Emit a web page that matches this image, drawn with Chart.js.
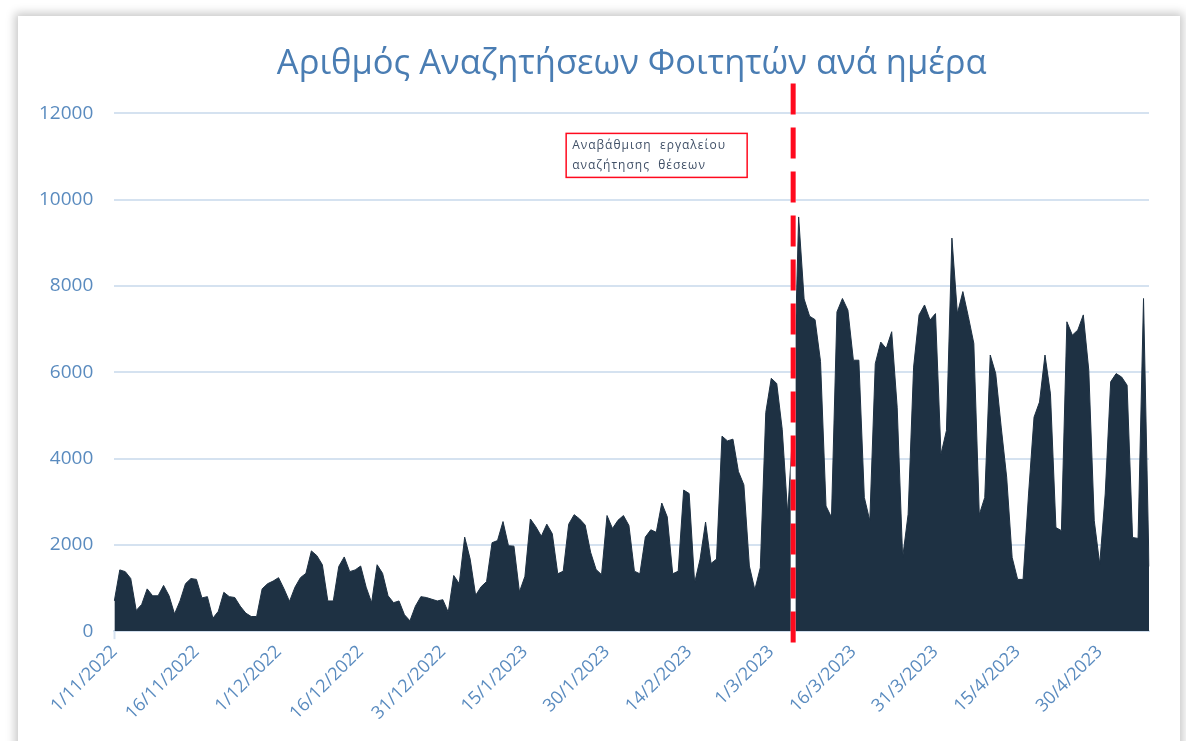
<!DOCTYPE html>
<html>
<head>
<meta charset="utf-8">
<title>Αναζητήσεις Φοιτητών</title>
<script src="https://cdn.jsdelivr.net/npm/chart.js@4.4.0/dist/chart.umd.min.js"></script>
<style>
	html, body { margin: 0; padding: 0; background: #ffffff; }
	body { width: 1186px; height: 741px; overflow: hidden; position: relative; }
	#card { position: absolute; left: 18px; top: 16px; width: 1162px; height: 740px; background: #ffffff; box-shadow: 0 0 9px 3px rgba(0, 0, 0, 0.22); }
	#chart-canvas { position: absolute; left: 0; top: 0; }
</style>
</head>
<body>
<div id="card"></div>
<canvas id="chart-canvas" width="1186" height="741"></canvas>
<script>
// daily searches, one array per month
var novValues = [700, 1420, 1380, 1220, 480, 620, 980, 820, 820, 1060, 820, 400, 700, 1100, 1220, 1200, 770, 800, 300, 460, 900, 800, 780, 580, 420, 340, 340, 980, 1100, 1160];
var decValues = [1240, 980, 690, 1020, 1240, 1340, 1860, 1750, 1540, 700, 700, 1500, 1720, 1380, 1420, 1510, 1020, 660, 1540, 1340, 820, 660, 700, 380, 240, 580, 800, 780, 740, 700, 730];
var janValues = [440, 1290, 1100, 2180, 1670, 830, 1030, 1150, 2050, 2100, 2540, 1980, 1970, 910, 1270, 2600, 2420, 2200, 2480, 2260, 1330, 1390, 2480, 2700, 2600, 2460, 1830, 1430, 1310, 2680, 2380];
var febValues = [2570, 2680, 2450, 1390, 1330, 2180, 2350, 2290, 2970, 2650, 1330, 1390, 3270, 3190, 1120, 1670, 2530, 1570, 1670, 4520, 4410, 4450, 3700, 3390, 1510, 960, 1470, 5070];
var marValues = [5860, 5740, 4680, 2720, 4800, 9600, 7700, 7300, 7220, 6250, 2900, 2640, 7400, 7710, 7440, 6280, 6280, 3100, 2560, 6200, 6700, 6550, 6940, 5190, 1700, 2710, 6120, 7330, 7560, 7210, 7360];
var aprValues = [4100, 4650, 9110, 7360, 7870, 7290, 6670, 2700, 3100, 6400, 5970, 4730, 3570, 1710, 1200, 1200, 3180, 4960, 5310, 6400, 5500, 2400, 2330, 7170, 6860, 6980, 7330, 6050, 2560, 1550];
var mayValues = [3180, 5780, 5970, 5890, 5700, 2170, 2150, 7710, 1500];

var tickLabels = ["1/11/2022", "16/11/2022", "1/12/2022", "16/12/2022", "31/12/2022", "15/1/2023", "30/1/2023", "14/2/2023", "1/3/2023", "16/3/2023", "31/3/2023", "15/4/2023", "30/4/2023"];
var yTicks = [0, 2000, 4000, 6000, 8000, 10000, 12000];
var upgradeDate = "5/3/2023";
var upgradeNote = ["Αναβάθμιση  εργαλείου", "αναζήτησης  θέσεων"];
var chartTitle = "Αριθμός Αναζητήσεων Φοιτητών ανά ημέρα";

var fillColor = "#1e3143";
var gridColor = "#d5e2f0";
var labelColor = "#5a8bbf";
var markerColor = "#ff0a1e";
var fontFamily = "'Open Sans', 'Noto Sans', sans-serif";

var searchValues = novValues.concat(decValues, janValues, febValues, marValues, aprValues, mayValues);
var dayLabels = [];

(function() {
	var day = new Date(2022, 10, 1);
	for(var i = 0; i < searchValues.length; i++) {
		dayLabels.push(day.getDate() + "/" + (day.getMonth() + 1) + "/" + day.getFullYear());
		day.setDate(day.getDate() + 1);
	}
})();

var upgradeMarker = {
	id: "upgradeMarker",
	afterDatasetsDraw: function(chart) {
		var ctx = chart.ctx;
		var area = chart.chartArea;
		var x = chart.scales.x.getPixelForValue(dayLabels.indexOf(upgradeDate));
		var top = area.top - 30;
		var bottom = area.bottom + 17;
		
		ctx.save();
		ctx.lineWidth = 5;
		ctx.strokeStyle = "#ffffff";
		ctx.beginPath();
		ctx.moveTo(x, top);
		ctx.lineTo(x, bottom);
		ctx.stroke();
		
		ctx.strokeStyle = markerColor;
		ctx.setLineDash([31, 13]);
		ctx.beginPath();
		ctx.moveTo(x, top);
		ctx.lineTo(x, bottom);
		ctx.stroke();
		ctx.setLineDash([]);
		
		// note box, left of the marker
		var boxLeft = x - 227;
		var boxTop = area.top + 20;
		ctx.fillStyle = "#ffffff";
		ctx.fillRect(boxLeft, boxTop, 181, 44);
		ctx.lineWidth = 1.5;
		ctx.strokeStyle = markerColor;
		ctx.strokeRect(boxLeft, boxTop, 181, 44);
		
		ctx.fillStyle = "#3f4f66";
		ctx.font = "12px " + fontFamily;
		ctx.textBaseline = "middle";
		ctx.textAlign = "left";
		if("letterSpacing" in ctx)
			ctx.letterSpacing = "1px";
		for(var i = 0; i < upgradeNote.length; i++)
			ctx.fillText(upgradeNote[i], boxLeft + 6, boxTop + 12 + i * 20);
		ctx.restore();
	}
};

function isLabelTick(index) {
	return tickLabels.indexOf(dayLabels[index]) >= 0;
}

window.onload = function() {
	new Chart(document.getElementById("chart-canvas"), {
		type: "line",
		data: {
			labels: dayLabels,
			datasets: [{
				label: "Αναζητήσεις",
				data: searchValues,
				fill: "origin",
				backgroundColor: fillColor,
				borderColor: fillColor,
				borderWidth: 1,
				pointRadius: 0,
				tension: 0
			}]
		},
		options: {
			responsive: false,
			animation: false,
			layout: {
				padding: {top: 39, left: 18, right: 37, bottom: 15}
			},
			plugins: {
				legend: {display: false},
				tooltip: {enabled: false},
				title: {
					display: true,
					text: chartTitle,
					fullSize: false,
					color: "#4a7db3",
					font: {family: fontFamily, size: 34.5, weight: "normal"},
					padding: {top: 4, bottom: 29}
				}
			},
			scales: {
				x: {
					offset: false,
					grid: {
						drawOnChartArea: false,
						drawTicks: true,
						tickLength: 8,
						tickWidth: 2,
						tickColor: function(context) { return isLabelTick(context.index) ? gridColor : "rgba(0,0,0,0)"; }
					},
					border: {display: true, color: gridColor, width: 2},
					ticks: {
						autoSkip: false,
						maxRotation: 45,
						minRotation: 45,
						padding: 2,
						color: labelColor,
						font: {family: fontFamily, size: 18},
						callback: function(value, index) { return isLabelTick(index) ? dayLabels[index] : null; }
					}
				},
				y: {
					min: yTicks[0],
					max: yTicks[yTicks.length - 1],
					afterBuildTicks: function(scale) { scale.ticks = yTicks.map(function(v) { return {value: v}; }); },
					grid: {color: gridColor, lineWidth: 2, drawTicks: false},
					border: {display: false},
					ticks: {
						padding: 21,
						color: labelColor,
						font: {family: fontFamily, size: 19},
						callback: function(value) { return String(value); }
					}
				}
			}
		},
		plugins: [upgradeMarker]
	});
};
</script>
</body>
</html>
